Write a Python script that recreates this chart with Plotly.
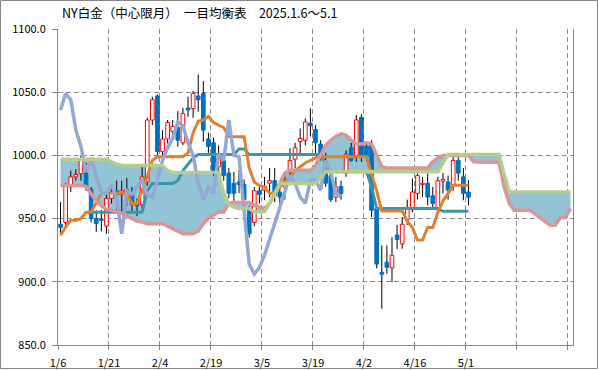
import plotly.graph_objects as go

# ---------------- data ----------------
tick_labels = ['1/6', '1/21', '2/4', '2/19', '3/5', '3/19', '4/2', '4/16', '5/1', '', '']
tick_slots = [0, 10, 20, 30, 40, 50, 60, 70, 80, 90, 100]

opens = [945.5, 947, 975, 983, 985.6, 986, 973, 950, 949.5, 944,
         966, 972, 969, 970, 971, 962, 961, 979, 1028, 1047,
         1003, 1013, 1019, 1022, 1010, 1037.5, 1037, 1047, 1049, 1013,
         1010, 991, 996, 986, 978, 979, 977, 957, 947, 972,
         972.5, 978, 980, 971, 975, 987, 997, 1011, 1012, 1025.5,
         1020.5, 1009, 985.6, 984, 967, 975.5, 986, 1006, 1000, 1030,
         1007, 1008, 958, 907.5, 915.5, 911, 937, 930, 949, 957,
         970, 977, 978, 968, 957, 979.6, 979, 977, 996, 983,
         971]
highs = [963, 978, 988, 989, 1000, 994, 975, 956.6, 957, 969.8,
         976, 980, 980, 982, 975, 966, 991, 1030, 1046.4, 1048.3,
         1020, 1028, 1028, 1035, 1037.6, 1046.4, 1050.9, 1064, 1058.8, 1018,
         1014, 1008, 1000, 990, 987, 988, 981, 960, 975, 975,
         983, 990, 990, 980, 985, 1005.7, 1010, 1021.3, 1029.2, 1037.2,
         1024, 1012, 1002, 986, 983, 980, 1004, 1010, 1031.9, 1032.6,
         1010, 1012, 960, 928.8, 928.8, 935.4, 945, 951.3, 965, 981.7,
         988.3, 983, 985.6, 975, 983, 986, 984, 998.8, 998.8, 990,
         980.4]
lows = [938, 944, 971, 980, 980, 972, 947, 939.4, 940, 938,
        962, 956, 956, 960, 956, 952, 958, 976, 1024, 998,
        998.8, 1009.4, 1014, 1007, 1008, 1030.5, 1029.7, 1034.5, 1010.7, 1002,
        984, 985, 980, 966, 963, 970, 958, 935, 944, 962,
        964.5, 967, 963, 956.6, 965, 984.3, 990, 1000, 1008, 1015,
        1000, 996, 975, 963.2, 963, 965, 983, 995, 995, 995,
        995, 951.3, 910.6, 878.7, 906.4, 899.8, 926, 926.2, 945, 955,
        965, 967, 960.5, 958, 955, 970, 965, 972, 980, 964.5,
        960.5]
closes = [943, 976, 983, 985, 996, 975, 950, 946, 948.5, 966,
          971, 969, 972, 973, 961, 960, 983, 1028, 1044, 1003,
          1013, 1026, 1023, 1012, 1033, 1036, 1049, 1044, 1020, 1007,
          987, 998, 984, 970, 970, 977, 965, 938, 972, 969,
          975.5, 980, 968.5, 967, 980.5, 996, 1006, 1013.5, 1026.5, 1023.5,
          1010, 1000, 978, 965, 975, 970, 1001, 996, 1028, 1000,
          999, 956.6, 914, 906, 911.5, 921, 933.5, 945.5, 958, 971,
          984, 978, 967, 962, 980, 981, 972.5, 996, 986, 970,
          967]

tenkan = [936.8, 943.4, 948.7, 948.7, 950, 955, 955.3, 962, 969.8, 970.3,
          970.3, 970.3, 970.3, 970.3, 962, 962, 972, 983, 996, 999,
          999, 999, 999, 999, 999, 1002, 1018, 1027, 1028, 1031,
          1026, 1024, 1022, 1015, 1014.7, 1014.7, 1014.7, 990, 979, 976,
          975, 970, 970, 975, 979, 983, 988, 991, 994, 996,
          998, 999, 999, 999, 999, 999, 999, 999, 999, 999,
          999, 985, 972, 956, 956, 956, 956, 956, 948, 943,
          933, 933, 943, 943, 955, 964, 970, 976.4, 976.4, 976.4,
          976.4]
kijun = [None, None, None, None, None, 955, 955, 955, 955, 955,
         955, 955, 955, 955, 955, 955, 955, 972, 977.7, 977.7,
         977.7, 977.7, 977.7, 980, 988, 993, 998, 1000.7, 1000.7, 1000.7,
         1000.7, 1000.7, 1000.7, 1000.7, 1000.7, 1005, 1005, 1000.7, 1000.7, 1000.7,
         1000.7, 1000.7, 1000.7, 1000.7, 1000.7, 1000.7, 1000.7, 1000.7, 1000.7, 1000.7,
         1000.7, 1000.7, 994, 987, 987, 987, 987, 987, 987, 987,
         987, 975, 958, 958, 958, 958, 958, 958, 958, 958,
         958, 958, 958, 958, 958, 955.8, 955.8, 955.8, 955.8, 955.8,
         955.8]
span_a = [976.2, 976.2, 976.2, 976.2, 976.2, 975.5, 970, 964, 960, 957.5,
          956.6, 955.5, 954, 952, 950, 948, 947.3, 946, 946, 946,
          946, 944, 942, 940, 938, 938, 938, 940, 946, 950,
          953, 955.3, 955.3, 962, 962.7, 962.7, 962.7, 962.7, 960.5, 959,
          958, 962, 970, 978, 986, 988.3, 988.3, 988.3, 988.3, 988.3,
          992, 1000, 1008, 1012, 1015, 1017, 1016, 1012, 1009, 1009,
          1010, 1009, 1000, 991, 990, 990, 990, 990, 990, 990,
          990, 990, 990, 995, 998, 1000, 1000, 1000, 1000, 1000,
          1000, 995, 994.6, 994.6, 994.6, 994.6, 994.6, 975, 962, 956.6,
          956.6, 956.6, 956.6, 954, 951, 947.5, 944.7, 944.7, 950.8, 950.8,
          958]
span_b = [997, 997, 997, 997, 997, 997, 997, 997, 997, 997,
          995, 993, 992, 992, 992, 992, 992, 992, 992, 992,
          992, 988, 986.5, 986.5, 986.5, 986.5, 986.5, 986.5, 986.5, 986.5,
          986.5, 986.5, 970, 961, 959, 958, 958, 958, 955.5, 955.5,
          955.5, 962, 970, 977.7, 977.7, 977.7, 977.7, 977.7, 977.7, 977.7,
          977.7, 982, 987, 987, 987, 987, 987, 987, 987, 987,
          987, 987, 987, 987, 987, 987, 987, 987, 987, 987,
          987, 987, 987, 987, 987, 994, 1000.7, 1000.7, 1000.7, 1000.7,
          1000.7, 1000.7, 1000.7, 1000.7, 1000.7, 1000.7, 1000.7, 985, 971, 971,
          971, 971, 971, 971, 971, 971, 971, 971, 971, 971,
          971]
CHIKOU_SHIFT = 25  # lagging span: close plotted 25 slots back

# ---------------- styles ----------------
FILL = '#92C4D5'
PINK = '#D99597'
GREEN = '#B6CD8E'
ORANGE = '#E0802E'
TEAL = '#3C96A8'
LAVENDER = '#93A8D2'
UP_LINE = '#FF0000'
DOWN = '#0070C0'
GRID = '#8C8C8C'
AXIS = '#868686'
FONT = 'Noto Sans CJK JP'

n = len(closes)
xc = [i + 0.5 for i in range(n)]
xcloud = [i + 0.5 for i in range(len(span_a))]
chikou = closes[CHIKOU_SHIFT:]
xchik = [i + 0.5 for i in range(len(chikou))]

fig = go.Figure()

# cloud fill (base subplot)
fig.add_trace(go.Scatter(x=xcloud, y=span_a, mode='lines', line=dict(width=0, color=FILL),
                         hoverinfo='skip', showlegend=False))
fig.add_trace(go.Scatter(x=xcloud, y=span_b, mode='lines', line=dict(width=0, color=FILL),
                         fill='tonexty', fillcolor=FILL, hoverinfo='skip', showlegend=False))

# wicks (base subplot, above fill, below bodies)
wx, wy = [], []
for i in range(n):
    wx += [xc[i], xc[i], None]
    wy += [lows[i], highs[i], None]
fig.add_trace(go.Scatter(x=wx, y=wy, mode='lines', line=dict(color='#000000', width=1),
                         hoverinfo='skip', showlegend=False))

# bodies (overlay subplot)
up_x, up_b, up_h, dn_x, dn_b, dn_h = [], [], [], [], [], []
for i in range(n):
    lo = min(opens[i], closes[i])
    h = max(abs(closes[i] - opens[i]), 1.0)
    if closes[i] >= opens[i]:
        up_x.append(xc[i]); up_b.append(lo); up_h.append(h)
    else:
        dn_x.append(xc[i]); dn_b.append(lo); dn_h.append(h)
fig.add_trace(go.Bar(x=up_x, y=up_h, base=up_b, width=0.72, xaxis='x2', yaxis='y2',
                     marker=dict(color='#FFFFFF', line=dict(color=UP_LINE, width=1)),
                     hoverinfo='skip', showlegend=False))
fig.add_trace(go.Bar(x=dn_x, y=dn_h, base=dn_b, width=0.72, xaxis='x2', yaxis='y2',
                     marker=dict(color=DOWN, line=dict(color=DOWN, width=1)),
                     hoverinfo='skip', showlegend=False))

# indicator lines (overlay subplot)
def line(x, y, color, w):
    fig.add_trace(go.Scatter(x=x, y=y, mode='lines', xaxis='x2', yaxis='y2',
                             line=dict(color=color, width=w), connectgaps=False,
                             hoverinfo='skip', showlegend=False))

line(xc, kijun, TEAL, 3)
line(xc, tenkan, ORANGE, 3)
line(xchik, chikou, LAVENDER, 3.5)
line(xcloud, span_a, PINK, 3.5)
line(xcloud, span_b, GREEN, 3.5)

xr = [0, 101]
yr = [850, 1100]

W, H = 599, 370
L, R, T, B = 58, 26, 29, 25
pw, ph = W - L - R, H - T - B

fig.update_layout(
    width=W, height=H,
    margin=dict(l=L, r=R, t=T, b=B, autoexpand=False),
    paper_bgcolor='white', plot_bgcolor='white',
    barmode='overlay',
    showlegend=False,
    font=dict(family=FONT, size=11, color='#000000'),
    title=dict(text='NY白金（中心限月）　一目均衡表　2025.1.6～5.1',
               x=62 / W, xanchor='left', xref='container',
               y=1 - 14 / H, yanchor='middle', yref='container',
               font=dict(family=FONT, size=12.5, color='#000000')),
    xaxis=dict(range=xr, tickvals=tick_slots, ticktext=tick_labels,
               showgrid=True, gridcolor=GRID, griddash='5px,3px', gridwidth=1,
               showline=True, linecolor=AXIS, linewidth=1,
               ticks='outside', ticklen=4, tickcolor=AXIS, ticklabelstandoff=4,
               zeroline=False, tickfont=dict(size=11)),
    yaxis=dict(range=yr, tickvals=[850, 900, 950, 1000, 1050, 1100],
               tickformat='.1f',
               showgrid=True, gridcolor=GRID, griddash='5px,3px', gridwidth=1,
               showline=True, linecolor=AXIS, linewidth=1, mirror=True,
               ticks='outside', ticklen=5, tickcolor=AXIS, ticklabelstandoff=4,
               zeroline=False, tickfont=dict(size=11)),
    xaxis2=dict(range=xr, overlaying='x', anchor='y2', visible=False),
    yaxis2=dict(range=yr, overlaying='y', anchor='x2', visible=False),
    shapes=[dict(type='rect', xref='paper', yref='paper',
                 x0=(0.5 - L) / pw, x1=(W - 1.5 - L) / pw,
                 y0=(T + ph - (H - 1.5)) / ph, y1=(T + ph - 0.5) / ph,
                 line=dict(color=AXIS, width=1), fillcolor='rgba(0,0,0,0)', layer='below')],
)

fig.write_html('out.html', config={'displayModeBar': False},
               post_script="document.body.style.margin='0';document.body.style.overflow='hidden';")
